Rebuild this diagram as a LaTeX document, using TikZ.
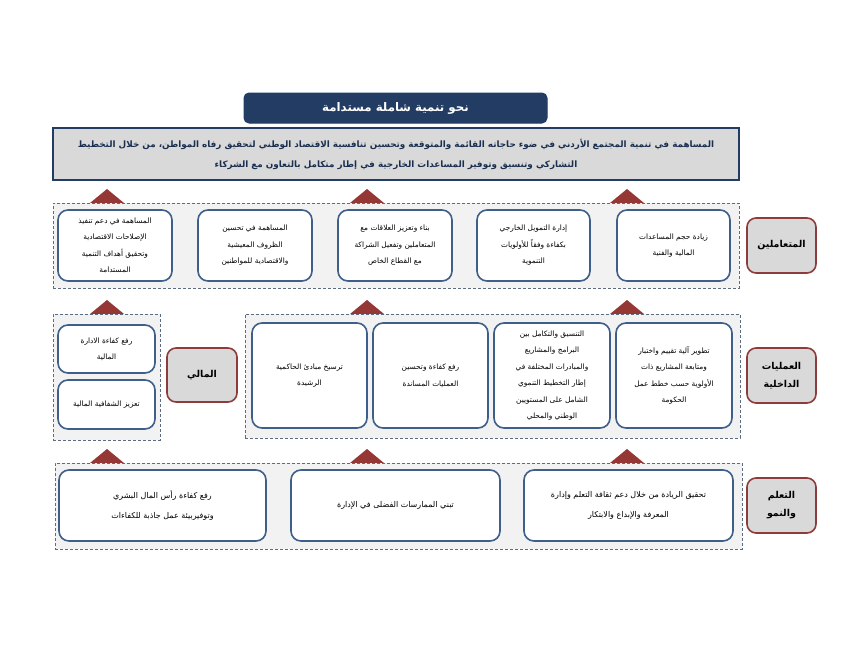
\documentclass[tikz,border=0pt]{standalone}
\usepackage{fontspec}
\newfontfamily\arabicfont[Script=Arabic]{DejaVu Sans}
\TeXXeTstate=1
\definecolor{navy}{HTML}{223C63}
\definecolor{boxblue}{HTML}{3E5F8A}
\definecolor{dashcol}{HTML}{5B6B82}
\definecolor{contfill}{HTML}{F2F2F2}
\definecolor{labfill}{HTML}{D9D9D9}
\definecolor{labborder}{HTML}{8E3B3B}
\definecolor{tricol}{HTML}{953735}
\definecolor{misstext}{HTML}{1A2F50}
\newcommand\ar[1]{\beginR #1\endR}
% style, name, x1, y1, x2, y2, text
\newcommand\rbox[7]{\node[#1, minimum width={(#5-#3)*1pt}, minimum height={(#6-#4)*1pt}] (#2) at ({(#3+#5)/2},{(#4+#6)/2}) {#7};}
\newcommand\tri[2]{\fill[tricol] ({#1-17},#2) -- (#1,{#2-14}) -- ({#1+17},#2) -- cycle;}
\tikzset{
  titlebox/.style={draw=navy, fill=navy, rounded corners=5pt, line width=1pt, text=white, align=center, inner sep=1pt, font=\arabicfont\bfseries\fontsize{11.8}{14}\selectfont},
  missionbox/.style={draw=navy, fill=labfill, line width=1.8pt, text=misstext, align=center, inner sep=1pt, font=\arabicfont\bfseries\fontsize{8.8}{20}\selectfont},
  container/.style={draw=dashcol, fill=contfill, dash pattern=on 3pt off 2pt, line width=0.7pt, inner sep=0pt},
  goalbox/.style={draw=boxblue, fill=white, line width=1.6pt, rounded corners=10pt, align=center, inner sep=1pt, font=\arabicfont\fontsize{7.4}{16.5}\selectfont},
  widebox/.style={goalbox, font=\arabicfont\fontsize{8}{20}\selectfont},
  labelbox/.style={draw=labborder, fill=labfill, line width=1.6pt, rounded corners=9pt, align=center, inner sep=1pt, font=\arabicfont\bfseries\fontsize{9.5}{18}\selectfont},
}
\begin{document}
\begin{tikzpicture}[x=1pt,y=-1pt]
\useasboundingbox (0,0) rectangle (860,648);
\fill[white] (0,0) rectangle (860,648);
% title and mission
\rbox{titlebox}{title}{244}{93}{547}{123}{\ar{نحو تنمية شاملة مستدامة}}
\rbox{missionbox}{mission}{53}{128}{739}{180}{\ar{المساهمة في تنمية المجتمع الأردني في ضوء حاجاته القائمة والمتوقعة وتحسين تنافسية الاقتصاد الوطني لتحقيق رفاه المواطن، من خلال التخطيط}\\\ar{التشاركي وتنسيق وتوفير المساعدات الخارجية في إطار متكامل بالتعاون مع الشركاء}}
% row 1
\tri{107}{203}\tri{367}{203}\tri{627}{203}
\rbox{container}{c1}{53}{203}{739}{288}{}
\rbox{goalbox}{a1}{58}{210}{172}{281}{\ar{المساهمة في دعم تنفيذ}\\\ar{الإصلاحات الاقتصادية}\\\ar{وتحقيق أهداف التنمية}\\\ar{المستدامة}}
\rbox{goalbox}{a2}{198}{210}{312}{281}{\ar{المساهمة في تحسين}\\\ar{الظروف المعيشية}\\\ar{والاقتصادية للمواطنين}}
\rbox{goalbox}{a3}{338}{210}{452}{281}{\ar{بناء وتعزيز العلاقات مع}\\\ar{المتعاملين وتفعيل الشراكة}\\\ar{مع القطاع الخاص}}
\rbox{goalbox}{a4}{477}{210}{590}{281}{\ar{إدارة التمويل الخارجي}\\\ar{بكفاءة وفقاً للأولويات}\\\ar{التنموية}}
\rbox{goalbox}{a5}{617}{210}{730}{281}{\ar{زيادة حجم المساعدات}\\\ar{المالية والفنية}}
\rbox{labelbox}{l1}{747}{218}{816}{273}{\ar{المتعاملين}}
% row 2
\tri{107}{314}\tri{367}{314}\tri{627}{314}
\rbox{container}{c2a}{53}{314}{160}{440}{}
\rbox{container}{c2b}{245}{314}{740}{438}{}
\rbox{goalbox}{b1}{58}{325}{155}{373}{\ar{رفع كفاءة الادارة}\\\ar{المالية}}
\rbox{goalbox}{b2}{58}{380}{155}{429}{\ar{تعزيز الشفافية المالية}}
\rbox{labelbox}{l2}{167}{348}{237}{402}{\ar{المالي}}
\rbox{goalbox}{b3}{252}{323}{367}{428}{\ar{ترسيخ مبادئ الحاكمية}\\\ar{الرشيدة}}
\rbox{goalbox}{b4}{373}{323}{488}{428}{\ar{رفع كفاءة وتحسين}\\\ar{العمليات المساندة}}
\rbox{goalbox}{b5}{494}{323}{610}{428}{\ar{التنسيق والتكامل بين}\\\ar{البرامج والمشاريع}\\\ar{والمبادرات المختلفة في}\\\ar{إطار التخطيط التنموي}\\\ar{الشامل على المستويين}\\\ar{الوطني والمحلي}}
\rbox{goalbox}{b6}{616}{323}{732}{428}{\ar{تطوير آلية تقييم واختبار}\\\ar{ومتابعة المشاريع ذات}\\\ar{الأولوية حسب خطط عمل}\\\ar{الحكومة}}
\rbox{labelbox}{l3}{747}{348}{816}{403}{\ar{العمليات}\\\ar{الداخلية}}
% row 3
\tri{107}{463}\tri{367}{463}\tri{627}{463}
\rbox{container}{c3}{55}{463}{742}{549}{}
\rbox{widebox}{d1}{59}{470}{266}{541}{\ar{رفع كفاءة رأس المال البشري}\\\ar{وتوفيربيئة عمل جاذبة للكفاءات}}
\rbox{widebox}{d2}{291}{470}{500}{541}{\ar{تبني الممارسات الفضلى في الإدارة}}
\rbox{widebox}{d3}{524}{470}{733}{541}{\ar{تحقيق الريادة من خلال دعم ثقافة التعلم وإدارة}\\\ar{المعرفة والإبداع والابتكار}}
\rbox{labelbox}{l4}{747}{478}{816}{533}{\ar{التعلم}\\\ar{والنمو}}
\end{tikzpicture}
\end{document}
